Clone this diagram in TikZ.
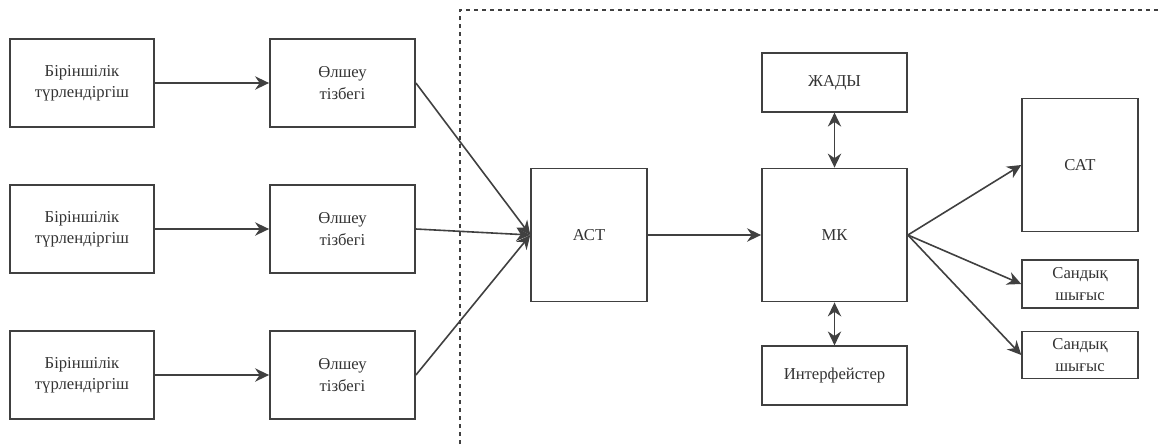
\documentclass[tikz,border=0pt]{standalone}
\usepackage{fontspec}
\setmainfont{Liberation Serif}
\usetikzlibrary{arrows.meta,positioning}
\definecolor{linegray}{HTML}{404040}

\begin{document}
\begin{tikzpicture}[x=0.75pt, y=-0.75pt, >={Stealth[length=10.5pt, width=10pt]},
    block/.style={draw=linegray, line width=1.1pt, align=center, inner sep=1pt, font=\fontsize{12.5}{16}\selectfont, text=black!80},
    wire/.style={->, draw=linegray, line width=1.2pt},
    duplex/.style={<->, draw=linegray, line width=1.2pt}]
    \useasboundingbox (0, 0) rectangle (1160, 444);

    % Sensor channels: primary converters and measuring circuits
    \foreach \row/\ypos in {1/83, 2/229, 3/375} {
        \node[block, minimum width=108pt, minimum height=66pt] (conv\row) at (82, \ypos) {Біріншілік\\түрлендіргіш};
        \node[block, minimum width=109pt, minimum height=66pt] (meas\row) at (342.5, \ypos) {Өлшеу\\тізбегі};
        \draw[wire] (conv\row) -- (meas\row);
    }

    % Dashed frame of the processing part
    \draw[linegray, line width=0.8pt, dashed] (460, 444) -- (460, 10) -- (1160, 10);

    % Processing blocks
    \node[block, minimum width=87pt, minimum height=100pt] (act) at (589, 235) {АСТ};
    \node[block, minimum width=109pt, minimum height=100pt] (mk) at (834.5, 235) {МК};
    \node[block, minimum width=109pt, minimum height=44pt] (mem) at (834.5, 82.5) {ЖАДЫ};
    \node[block, minimum width=109pt, minimum height=44pt] (iface) at (834.5, 375.5) {Интерфейстер};

    % Outputs
    \node[block, minimum width=87pt, minimum height=100pt] (sat) at (1080, 165) {САТ};
    \node[block, minimum width=87pt, minimum height=36pt] (dout1) at (1080, 284) {Сандық\\шығыс};
    \node[block, minimum width=87pt, minimum height=35pt] (dout2) at (1080, 355) {Сандық\\шығыс};

    % Connections
    \foreach \row in {1, 2, 3} {
        \draw[wire] (meas\row.east) -- (act.west);
    }
    \draw[wire] (act) -- (mk);
    \draw[duplex] (mem) -- (mk);
    \draw[duplex] (mk) -- (iface);
    \draw[wire] (mk.east) -- (sat.west);
    \draw[wire] (mk.east) -- (dout1.west);
    \draw[wire] (mk.east) -- (dout2.west);
\end{tikzpicture}
\end{document}
